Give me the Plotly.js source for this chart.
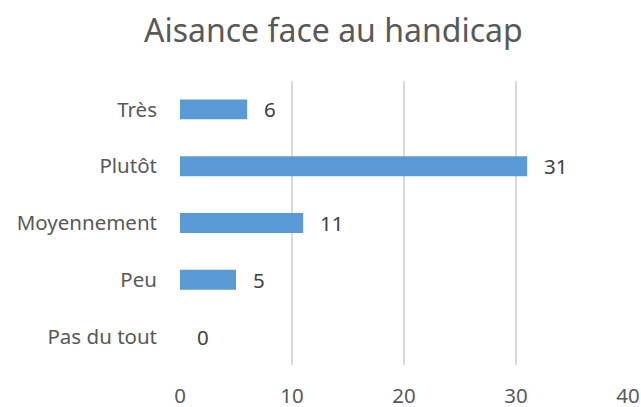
<!DOCTYPE html>
<html>
<head>
<meta charset="utf-8">
<script src="https://cdn.plot.ly/plotly-3.0.1.min.js"></script>
<style>html,body{margin:0;padding:0;background:#fff;}#chart{width:641px;height:407px;}</style>
</head>
<body>
<div id="chart"></div>
<script>
const categories = ["Très", "Plutôt", "Moyennement", "Peu", "Pas du tout"];
const values = [6, 31, 11, 5, 0];
const xTicks = [0, 10, 20, 30, 40];

const FONT = "Noto Sans, Open Sans, sans-serif";

const trace = {
  type: "bar",
  orientation: "h",
  x: values,
  y: categories,
  width: 0.35,
  marker: {color: "#5B9BD5"},
  hoverinfo: "none"
};

const annotations = categories.map((c, i) => ({
  x: values[i], y: c, xref: "x", yref: "y",
  text: String(values[i]), showarrow: false,
  xanchor: "left", xshift: 15,
  font: {family: FONT, size: 20.5, color: "#404040"}
}));

const layout = {
  width: 641, height: 407,
  margin: {l: 180, r: 13, t: 81, b: 42},
  paper_bgcolor: "#ffffff", plot_bgcolor: "#ffffff",
  showlegend: false,
  title: {text: "Aisance face au handicap", x: 0.52, xanchor: "center", y: 0.925, yanchor: "middle",
          font: {family: FONT, size: 32, color: "#595959"}},
  xaxis: {range: [0, 40], tickvals: xTicks, ticktext: xTicks.map(String),
          showgrid: true, gridcolor: "#D9D9D9", gridwidth: 1.3, zeroline: false,
          showline: false, ticks: "", ticklabelstandoff: 16, automargin: false,
          tickfont: {family: FONT, size: 20.5, color: "#595959"}, fixedrange: true},
  yaxis: {categoryorder: "array", categoryarray: categories.slice().reverse(),
          autorange: true, showgrid: false, zeroline: false, showline: false, ticks: "",
          ticklabelstandoff: 22, automargin: false,
          tickfont: {family: FONT, size: 20.5, color: "#595959"}, fixedrange: true},
  annotations: annotations,
  bargap: 0.65
};

Plotly.newPlot("chart", [trace], layout, {displayModeBar: false, staticPlot: true});
</script>
</body>
</html>
